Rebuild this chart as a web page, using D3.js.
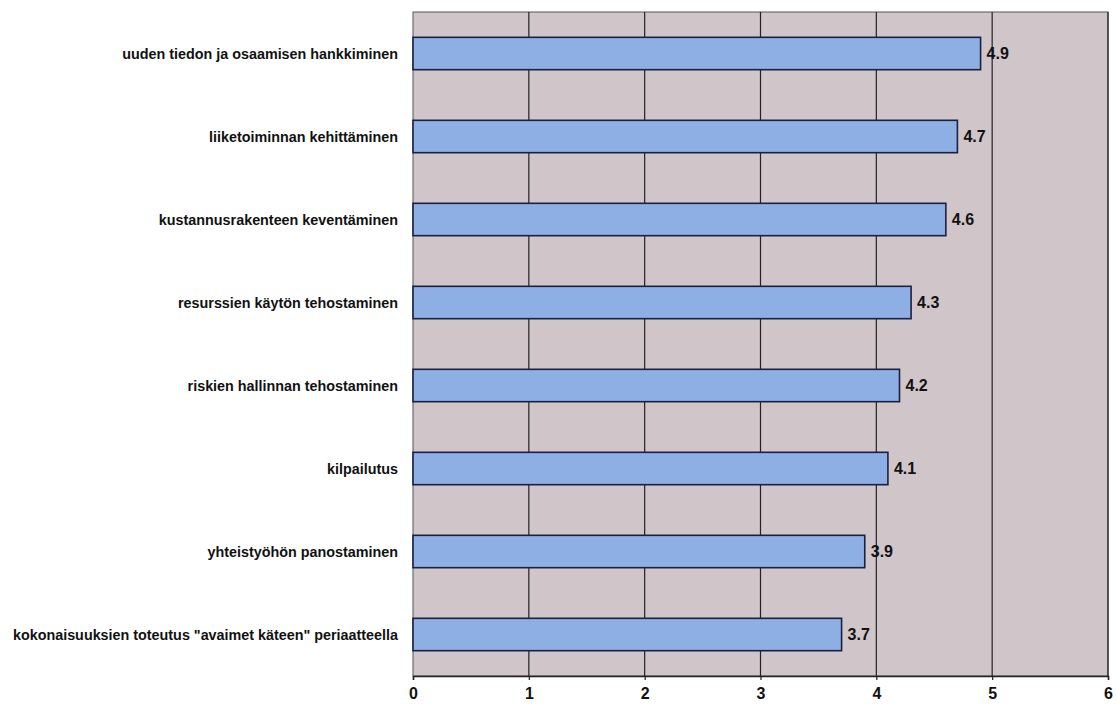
<!DOCTYPE html>
<html>
<head>
<meta charset="utf-8">
<script src="https://cdn.jsdelivr.net/npm/d3@7"></script>
<style>
  body { margin: 0; background: #fff; }
  svg { display: block; }
  text { font-family: "Liberation Sans", Arial, sans-serif; fill: #111; }
</style>
</head>
<body>
<svg id="chart" width="1117" height="706"></svg>
<script>
// Categories from top to bottom, with their mean scores
const categories = [
  "uuden tiedon ja osaamisen hankkiminen",
  "liiketoiminnan kehittäminen",
  "kustannusrakenteen keventäminen",
  "resurssien käytön tehostaminen",
  "riskien hallinnan tehostaminen",
  "kilpailutus",
  "yhteistyöhön panostaminen",
  "kokonaisuuksien toteutus \"avaimet käteen\" periaatteella"
];
const values = [4.9, 4.7, 4.6, 4.3, 4.2, 4.1, 3.9, 3.7];
const xTicks = [0, 1, 2, 3, 4, 5, 6];

const svg = d3.select("#chart");
const margin = { left: 413, right: 9, top: 12, bottom: 30 };
const W = 1117, H = 706;
const plotW = W - margin.left - margin.right;
const plotH = H - margin.top - margin.bottom;

const x = d3.scaleLinear().domain([0, 6]).range([0, plotW]);
const y = d3.scaleBand().domain(categories).range([0, plotH]).paddingInner(0.61).paddingOuter(0.305);

const g = svg.append("g").attr("transform", `translate(${margin.left},${margin.top})`);

// plot background
g.append("rect")
  .attr("width", plotW).attr("height", plotH)
  .attr("fill", "#d0c6c9")
  .attr("stroke", "#555").attr("stroke-width", 1);

// vertical gridlines
g.selectAll("line.grid").data(xTicks.slice(1))
  .enter().append("line")
  .attr("class", "grid")
  .attr("x1", d => x(d)).attr("x2", d => x(d))
  .attr("y1", 0).attr("y2", plotH)
  .attr("stroke", "#222").attr("stroke-width", 1.2);

// bars
g.selectAll("rect.bar").data(values)
  .enter().append("rect")
  .attr("class", "bar")
  .attr("x", x(0))
  .attr("y", (d, i) => y(categories[i]))
  .attr("width", d => x(d) - x(0))
  .attr("height", y.bandwidth())
  .attr("fill", "#8eafe4")
  .attr("stroke", "#1b2040").attr("stroke-width", 1.6);

// value labels
g.selectAll("text.val").data(values)
  .enter().append("text")
  .attr("class", "val")
  .attr("x", d => x(d) + 6)
  .attr("y", (d, i) => y(categories[i]) + y.bandwidth() / 2)
  .attr("dy", "0.35em")
  .attr("font-size", 16)
  .attr("font-weight", "bold")
  .text(d => d.toFixed(1));

// category labels, slightly condensed
g.selectAll("text.cat").data(categories)
  .enter().append("text")
  .attr("class", "cat")
  .attr("transform", d => `translate(-15,${y(d) + y.bandwidth() / 2}) scale(0.945,1)`)
  .attr("dy", "0.35em")
  .attr("text-anchor", "end")
  .attr("font-size", 15.2)
  .attr("font-weight", "bold")
  .text(d => d);

// x axis
const xAxis = d3.axisBottom(x).tickValues(xTicks).tickSize(4).tickPadding(8).tickFormat(d3.format("d"));
const ax = g.append("g").attr("transform", `translate(0,${plotH})`).call(xAxis);
ax.select(".domain").attr("stroke", "#222").attr("stroke-width", 1.5);
ax.selectAll(".tick line").attr("stroke", "#222").attr("stroke-width", 1.2);
ax.selectAll(".tick text")
  .attr("font-size", 16).attr("font-weight", "bold")
  .attr("fill", "#111")
  .style("font-family", "\"Liberation Sans\", Arial, sans-serif");
</script>
</body>
</html>
